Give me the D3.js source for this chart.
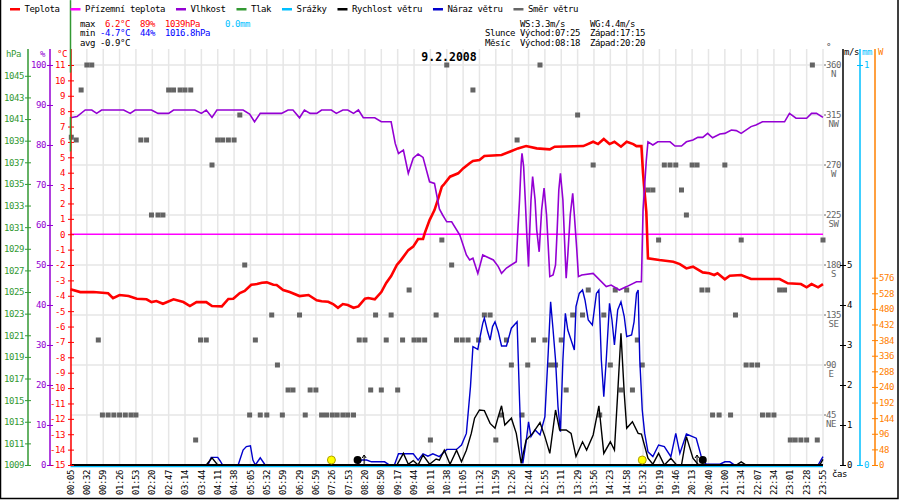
<!DOCTYPE html>
<html>
<head>
<meta charset="utf-8">
<script src="https://cdn.jsdelivr.net/npm/d3@7"></script>
<style>
  body { margin: 0; background: #fff; }
  text { font-family: "DejaVu Sans Mono", monospace; font-size: 9px; letter-spacing: -0.42px; white-space: pre; }
</style>
</head>
<body>
<div id="chart"></div>
<script>
// x positions are sample numbers: 20 samples between two time labels
var timeLabels = ["00:05","00:32","00:59","01:26","01:53","02:20","02:47","03:14","03:44","04:11",
  "04:38","05:05","05:32","05:59","06:29","06:59","07:26","07:53","08:20","08:50","09:17","09:44",
  "10:11","10:38","11:05","11:32","11:59","12:26","12:44","12:55","13:11","13:29","13:56","14:23",
  "14:58","15:32","19:19","19:46","20:13","20:40","21:00","21:34","22:07","22:34","23:01","23:28","23:55"];
var labelStep = 20;

// Teplota (°C)
var temperature = [[0,-3.58],[12,-3.76],[28,-3.76],[46,-3.84],[52,-4.15],[60,-3.95],[71,-4.02],[81,-4.19],
  [93,-4.23],[99,-4.41],[105,-4.34],[113,-4.52],[126,-4.23],[138,-4.41],[146,-4.67],[154,-4.41],[166,-4.41],
  [173,-4.67],[185,-4.69],[193,-4.21],[199,-4.19],[207,-3.82],[213,-3.69],[221,-3.28],[228,-3.24],[234,-3.15],
  [240,-3.13],[248,-3.28],[252,-3.30],[260,-3.63],[268,-3.76],[280,-4.02],[291,-3.95],[301,-4.30],[307,-4.36],
  [315,-4.39],[321,-4.54],[327,-4.78],[333,-4.54],[339,-4.60],[346,-4.78],[352,-4.69],[360,-4.19],[364,-4.15],
  [372,-4.23],[380,-3.76],[386,-3.17],[392,-2.72],[399,-2.00],[404,-1.68],[413,-1.03],[419,-0.81],[425,-0.31],
  [431,-0.31],[433,0.06],[439,0.92],[445,1.57],[449,2.22],[454,3.09],[456,3.20],[464,3.74],[474,3.96],
  [480,4.28],[488,4.61],[492,4.76],[500,4.82],[506,5.08],[527,5.15],[537,5.36],[547,5.58],[557,5.73],
  [570,5.58],[586,5.52],[592,5.69],[627,5.73],[639,6.01],[645,5.86],[652,6.19],[659,5.86],[665,6.01],
  [673,5.69],[680,6.01],[688,5.86],[692,5.73],[698,5.73],[700,3.96],[702,2.68],[704,1.46],[706,-1.57],
  [720,-1.68],[737,-1.79],[745,-1.94],[753,-2.22],[761,-2.11],[773,-2.48],[781,-2.54],[787,-2.65],
  [791,-2.54],[800,-2.93],[806,-2.70],[820,-2.65],[832,-2.91],[867,-2.91],[877,-3.19],[893,-3.24],
  [900,-3.45],[906,-3.24],[914,-3.45],[920,-3.24]];

// Přízemní teplota (°C)
var groundTemp = [[0,0],[920,0]];

// Vlhkost (%)
var humidity = [[0,86.8],[8,87.1],[18,88.75],[26,88.75],[32,87.9],[38,88.75],[65,88.75],[73,87.9],[79,88.75],
  [99,88.75],[107,87.9],[120,87.9],[126,88.75],[152,88.75],[160,87.9],[166,88.75],[173,86.9],[179,88.75],
  [211,88.75],[219,87.75],[225,85.8],[232,87.9],[258,87.9],[266,88.75],[272,88.75],[280,86.8],[286,88.75],
  [293,87.9],[301,87.9],[307,88.75],[319,88.75],[325,87.9],[333,88.75],[339,88.75],[346,87.9],[352,88.75],
  [358,86.8],[372,86.8],[380,85.8],[392,85.8],[397,80.4],[401,77.9],[407,78.75],[413,72.9],[419,76.7],
  [425,77.75],[431,76.9],[439,70.8],[445,70.4],[451,64],[455,62.5],[460,60.8],[466,60.8],[476,57.5],
  [484,52.5],[488,51.25],[492,51.7],[498,47.9],[504,52.5],[517,51.25],[523,49.6],[527,47.9],[533,49.25],
  [545,50.8],[547,58.75],[549,66.25],[551,75.5],[552,77.9],[554,74.6],[556,66.25],[558,57.1],[560,49.6],
  [561,56.25],[563,66.25],[565,72.1],[568,66.25],[570,58.75],[573,53.3],[576,63.75],[579,69.25],[582,62.5],
  [584,55],[586,47.1],[590,47.5],[593,50],[595,58.75],[597,68.75],[599,72.9],[602,66.25],[604,56.25],
  [606,46.7],[608,52.5],[611,62.5],[614,67.9],[616,62.5],[619,53.75],[621,47.1],[625,47.5],[639,47.9],
  [655,44.6],[661,45],[671,43.75],[680,44.6],[692,45.8],[698,45.8],[700,63.75],[704,76.25],[706,80.8],
  [712,80],[718,80.8],[733,80.8],[739,79.75],[747,79.75],[753,80.8],[761,81.25],[767,81.9],[773,81.9],
  [779,82.9],[785,81.8],[794,82.75],[800,82.9],[808,83.75],[814,83.6],[820,82.9],[832,84.6],[838,85],
  [846,85.8],[873,85.8],[879,87.9],[887,86.7],[900,86.7],[906,87.9],[912,87.9],[920,86.9]];

// Tlak (hPa) - only a stray trace at the left edge
var pressureTrace = [[[0,1052.0],[0,1045.3]], [[0,1041.2],[0,1038.0]]];

// Srážky (mm)
var rain = [[0,0],[920,0]];

// Rychlost větru (m/s)
var windSpeed = [[0,0],[166,0],[173,0.18],[180,0],[399,0],[407,0.29],[413,0.02],[419,0.11],[425,0],[431,0.25],
  [439,0.02],[447,0.15],[451,0.12],[457,0.37],[464,0.02],[472,0.37],[478,0.08],[484,0.37],[490,0.79],
  [494,1.17],[500,1.375],[506,1.36],[513,1.04],[519,0.92],[523,1.21],[527,1.48],[531,1.0],[539,1.17],
  [545,0.79],[551,0.04],[557,0.625],[565,0.79],[574,1.06],[580,0.71],[586,0.29],[593,1.375],[598,0.875],
  [606,0.875],[612,0.79],[618,0.21],[626,0.58],[631,0.375],[639,0.75],[646,1.48],[652,0.29],[660,0.58],
  [665,0.375],[669,1.79],[673,3.29],[677,1.79],[680,0.92],[687,1.08],[694,0.79],[698,0.775],[706,0.17],
  [712,0.02],[719,0.29],[726,0],[734,0.17],[741,0],[747,0],[753,0.71],[761,0.17],[767,0.02],[771,0],
  [814,0],[820,0.08],[826,0],[916,0],[920,0.14]];

// Náraz větru (m/s)
var windGust = [[0,0],[168,0],[172,0.19],[180,0.19],[183,0.1],[186,0],[205,0],[211,0.375],[215,0.46],
  [220,0.48],[223,0.125],[226,0],[232,0.18],[238,0],[350,0],[356,0.125],[362,0.125],[368,0.08],[384,0.08],
  [390,0],[396,0],[401,0.28],[419,0.28],[425,0.12],[431,0.28],[437,0.22],[443,0.28],[451,0.21],[460,0.39],
  [472,0.39],[478,0.5],[484,0.79],[489,1.96],[492,2.96],[498,2.89],[500,3.125],[504,3.54],[506,3.67],
  [510,3.33],[513,3.125],[516,3.46],[519,3.58],[523,3.33],[527,2.975],[533,2.975],[539,3.42],[546,3.58],
  [549,1.625],[551,0.46],[553,0.04],[557,0.58],[560,1.08],[563,0.71],[568,0.875],[574,0.75],[580,1.21],
  [584,2.79],[587,4.08],[590,3.375],[593,2.625],[596,1.46],[599,0.83],[602,2.625],[605,3.79],[608,3.375],
  [612,3.125],[616,2.875],[618,3.96],[622,4.29],[626,4.375],[629,4.125],[633,3.625],[638,3.5],[643,4.29],
  [646,4.375],[649,2.625],[652,1.71],[655,2.625],[659,4.04],[662,3.625],[665,3.0],[669,3.875],[673,4.08],
  [677,3.71],[680,3.21],[686,3.25],[689,3.58],[692,4.29],[694,4.375],[696,2.625],[699,1.375],[702,0.79],
  [706,0.33],[712,0.21],[719,0.5],[726,0.46],[734,0.21],[740,0.79],[745,0.29],[753,0.775],[765,0.67],
  [771,0.225],[777,0.02],[794,0.02],[800,0.08],[806,0.08],[812,0],[914,0],[920,0.21]];

// Směr větru (°)
var windDir = [[1,295],[7,292.5],[13,337.5],[20,360],[26,360],[34,112.5],[39,45],[46,45],[53,45],[60,45],
  [67,45],[74,45],[80,45],[86,292.5],[93,292.5],[99,225],[107,225],[113,225],[120,337.5],[126,337.5],
  [134,337.5],[140,337.5],[147,337.5],[153,22.5],[159,112.5],[166,112.5],[173,270],[180,292.5],[186,292.5],
  [193,292.5],[200,292.5],[207,315],[213,180],[219,45],[226,112.5],[232,45],[240,45],[246,135],[253,90],
  [259,45],[266,67.5],[272,67.5],[280,135],[287,45],[293,67.5],[300,67.5],[307,45],[313,45],[320,45],
  [326,45],[333,45],[339,45],[346,45],[353,112.5],[360,112.5],[367,67.5],[373,135],[380,67.5],[386,112.5],
  [392,135],[400,67.5],[406,112.5],[414,157.5],[420,112.5],[426,112.5],[433,112.5],[440,22.5],[447,135],
  [454,202.5],[460,360],[466,180],[472,112.5],[479,112.5],[486,112.5],[492,337.5],[499,112.5],[506,135],
  [513,135],[520,22.5],[527,45],[533,112.5],[539,90],[546,292.5],[552,45],[559,90],[566,112.5],[574,360],
  [580,112.5],[587,90],[593,90],[600,112.5],[606,67.5],[614,135],[620,315],[626,135],[633,157.5],[639,270],
  [647,45],[652,135],[660,90],[666,157.5],[673,67.5],[680,157.5],[687,67.5],[693,112.5],[699,90],
  [706,247.5],[712,247.5],[719,202.5],[726,270],[733,270],[740,270],[747,247.5],[753,225],[760,270],
  [766,270],[772,157.5],[779,157.5],[785,45],[793,45],[800,270],[807,45],[813,135],[820,202.5],[826,90],
  [833,90],[840,90],[846,45],[853,45],[860,45],[867,157.5],[873,157.5],[880,22.5],[886,22.5],[893,22.5],
  [900,22.5],[907,360],[913,22.5],[920,202.5]];

// sun / moon rise and set, small markers
var sunMarks = [319, 699];
var moonMarks = [351, 773];
var arrowMarks = [359, 766];

// tick values
var hpaTicks = d3.range(1009, 1046, 2);
var humTicks = d3.range(0, 101, 10);
var tempTicks = d3.range(-15, 12, 1);
var dirTicks = [45, 90, 135, 180, 225, 270, 315, 360];
var compass = ["NE", "E", "SE", "S", "SW", "W", "NW", "N"];
var msTicks = [0, 1, 2, 3, 4, 5];
var mmTicks = [0, 1];
var wTicks = d3.range(0, 577, 48);

var legendItems = ["Teplota", "Přízemní teplota", "Vlhkost", "Tlak", "Srážky", "Rychlost větru", "Náraz větru", "Směr větru"];
var legendColors = ["#ff0000", "#ff00ff", "#9400d3", "#339933", "#00bfff", "#000000", "#0000cc", "#666666"];

var svgWidth = 900, svgHeight = 500;
var plotLeft = 70.5, plotRight = 823, plotTop = 65, plotBottom = 465, axisTop = 49;

var svg = d3.select("#chart").append("svg")
  .attr("width", svgWidth)
  .attr("height", svgHeight);

var x = d3.scaleLinear().domain([0, 920]).range([plotLeft, plotRight]);
var yT = d3.scaleLinear().domain([-15, 11]).range([plotBottom, plotTop]);
var yH = d3.scaleLinear().domain([0, 100]).range([plotBottom, plotTop]);
var yP = d3.scaleLinear().domain([1009, 1046]).range([plotBottom, plotTop]);
var yD = d3.scaleLinear().domain([0, 360]).range([plotBottom, plotTop]);
var yMs = d3.scaleLinear().domain([0, 10]).range([plotBottom, plotTop]);
var yMm = d3.scaleLinear().domain([0, 1]).range([plotBottom, plotTop]);
var yW = d3.scaleLinear().domain([0, 1230]).range([plotBottom, plotTop]);

// grid
svg.append("g").selectAll("line").data(timeLabels).join("line")
  .attr("x1", (d, i) => x(i * labelStep)).attr("x2", (d, i) => x(i * labelStep))
  .attr("y1", axisTop).attr("y2", plotBottom)
  .attr("stroke", "#e6e6e6").attr("stroke-width", 1.5);
svg.append("g").selectAll("line").data(d3.range(0, 361, 45)).join("line")
  .attr("x1", plotLeft).attr("x2", plotRight)
  .attr("y1", d => yD(d)).attr("y2", d => yD(d))
  .attr("stroke", "#e6e6e6").attr("stroke-width", 1.5);

// wind direction squares
svg.append("g").selectAll("rect").data(windDir).join("rect")
  .attr("x", d => x(d[0]) - 2.5).attr("y", d => yD(d[1]) - 2.5)
  .attr("width", 5).attr("height", 5)
  .attr("fill", "#646464");

function lineOf(ys) {
  return d3.line().x(d => x(d[0])).y(d => ys(d[1]));
}

svg.append("path").datum(groundTemp).attr("d", lineOf(yT))
  .attr("fill", "none").attr("stroke", "#ff00ff").attr("stroke-width", 1.5);

svg.append("path").datum(temperature).attr("d", lineOf(yT))
  .attr("fill", "none").attr("stroke", "#ff0000").attr("stroke-width", 2.6);

svg.append("path").datum(humidity).attr("d", lineOf(yH))
  .attr("fill", "none").attr("stroke", "#9400d3").attr("stroke-width", 1.6);

svg.append("path").datum(rain).attr("d", lineOf(yMm))
  .attr("transform", "translate(0,1.5)")
  .attr("fill", "none").attr("stroke", "#00bfff").attr("stroke-width", 1.5);

svg.append("path").datum(windGust).attr("d", lineOf(yMs))
  .attr("fill", "none").attr("stroke", "#0000cc").attr("stroke-width", 1.4);

svg.append("path").datum(windSpeed).attr("d", lineOf(yMs))
  .attr("fill", "none").attr("stroke", "#000").attr("stroke-width", 1.4);

svg.append("line").attr("x1", plotLeft).attr("x2", plotRight).attr("y1", plotBottom).attr("y2", plotBottom)
  .attr("stroke", "#000").attr("stroke-width", 2);

// sun and moon
svg.append("g").selectAll("circle").data(sunMarks).join("circle")
  .attr("cx", d => x(d)).attr("cy", plotBottom - 5).attr("r", 4)
  .attr("fill", "#ffff00").attr("stroke", "#b0a000").attr("stroke-width", 1);
svg.append("g").selectAll("circle").data(moonMarks).join("circle")
  .attr("cx", d => x(d)).attr("cy", plotBottom - 5).attr("r", 4)
  .attr("fill", "#000");
svg.append("g").selectAll("path").data(arrowMarks).join("path")
  .attr("d", d => `M${x(d)},${plotBottom}V${plotBottom - 10}M${x(d) - 2},${plotBottom - 7}L${x(d)},${plotBottom - 10}L${x(d) + 2},${plotBottom - 7}`)
  .attr("fill", "none").attr("stroke", "#000").attr("stroke-width", 1);

// left axes
function leftAxis(xPos, scale, ticks, color, pad) {
  svg.append("line").attr("x1", xPos).attr("x2", xPos).attr("y1", axisTop).attr("y2", plotBottom)
    .attr("stroke", color).attr("stroke-width", 1.5);
  var g = svg.append("g").attr("transform", `translate(${xPos},0)`)
    .call(d3.axisLeft(scale).tickValues(ticks).tickFormat(d => String(d)).tickSize(3).tickPadding(pad));
  g.select(".domain").remove();
  g.selectAll(".tick line").attr("x1", 3).attr("stroke", color);
  g.selectAll(".tick text").attr("fill", color);
  g.attr("font-family", null).attr("font-size", null);
}
leftAxis(28, yP, hpaTicks, "#339933", 1);
leftAxis(50, yH, humTicks, "#9400d3", 1);
leftAxis(71, yT, tempTicks, "#ff0000", 3);

// Tlak trace at the left edge
pressureTrace.forEach(function(seg) {
  svg.append("path").datum(seg).attr("d", lineOf(yP))
    .attr("fill", "none").attr("stroke", "#339933").attr("stroke-width", 1.5);
});

svg.append("text").attr("x", 6).attr("y", 57).attr("fill", "#339933").text("hPa");
svg.append("text").attr("x", 40).attr("y", 57).attr("fill", "#9400d3").text("%");
svg.append("text").attr("x", 57).attr("y", 57).attr("fill", "#ff0000").text("°C");

// wind direction scale
var gDir = svg.append("g");
gDir.selectAll("g").data(dirTicks).join("g")
  .attr("transform", d => `translate(${plotRight},${yD(d)})`)
  .each(function(d, i) {
    var g = d3.select(this);
    g.append("line").attr("x1", 1).attr("x2", 3).attr("stroke", "#666");
    var t = g.append("text").attr("x", 3).attr("dy", "0.35em").attr("fill", "#666").text(d);
    var w = t.node().getComputedTextLength();
    g.append("text").attr("x", 3 + w / 2).attr("y", 9).attr("dy", "0.35em")
      .attr("text-anchor", "middle").attr("fill", "#666").text(compass[i]);
  });
svg.append("text").attr("x", 826).attr("y", 50).attr("fill", "#444").text("°");

// right axes
function rightAxis(xPos, scale, ticks, color) {
  svg.append("line").attr("x1", xPos).attr("x2", xPos).attr("y1", axisTop).attr("y2", plotBottom)
    .attr("stroke", color).attr("stroke-width", 1.5);
  var g = svg.append("g").attr("transform", `translate(${xPos},0)`)
    .call(d3.axisRight(scale).tickValues(ticks).tickFormat(d => String(d)).tickSize(3).tickPadding(1));
  g.select(".domain").remove();
  g.selectAll(".tick line").attr("x1", -3).attr("stroke", color);
  g.selectAll(".tick text").attr("fill", color);
  g.attr("font-family", null).attr("font-size", null);
}
rightAxis(843, yMs, msTicks, "#000");
rightAxis(860, yMm, mmTicks, "#00bfff");
rightAxis(875, yW, wTicks, "#ff8000");

svg.append("text").attr("x", 844).attr("y", 55).attr("fill", "#000").text("m/s");
svg.append("text").attr("x", 862).attr("y", 55).attr("fill", "#00bfff").text("mm");
svg.append("text").attr("x", 878).attr("y", 55).attr("fill", "#ff8000").text("W");

// time labels
svg.append("g").selectAll("text").data(timeLabels).join("text")
  .attr("transform", (d, i) => `translate(${x(i * labelStep)},470) rotate(-90)`)
  .attr("text-anchor", "end").attr("dy", "0.35em").attr("fill", "#000")
  .text(d => d);
svg.append("text").attr("x", 832).attr("y", 477).attr("fill", "#000").text("čas");

// title
svg.append("text").attr("x", 449).attr("y", 61).attr("text-anchor", "middle")
  .style("font-size", "11.5px").style("font-weight", "bold").style("letter-spacing", "0px")
  .text("9.2.2008");

// legend
var lx = 10;
legendItems.forEach(function(name, i) {
  svg.append("rect").attr("x", lx).attr("y", 8).attr("width", 10).attr("height", 2.5).attr("fill", legendColors[i]);
  var t = svg.append("text").attr("x", lx + 14.5).attr("y", 12).attr("fill", "#000").text(name);
  lx = lx + 14.5 + t.node().getComputedTextLength() + 11;
});

// stats
function statRow(xPos, yPos, parts) {
  var t = svg.append("text").attr("x", xPos).attr("y", yPos);
  parts.forEach(function(p) { t.append("tspan").attr("fill", p[1]).text(p[0]); });
}
statRow(80, 26.5, [["max  ", "#000"], ["6.2°C", "#ff0000"], ["  ", "#000"], ["89%", "#ff0000"], ["  ", "#000"],
  ["1039hPa", "#ff0000"], ["     ", "#000"], ["0.0mm", "#00bfff"]]);
statRow(80, 36.3, [["min ", "#000"], ["-4.7°C", "#0000ff"], ["  ", "#000"], ["44%", "#0000ff"], ["  ", "#000"],
  ["1016.8hPa", "#0000ff"]]);
statRow(80, 46, [["avg -0.9°C", "#000"]]);
statRow(485, 26.5, [["       WS:3.3m/s     WG:4.4m/s", "#000"]]);
statRow(485, 36.3, [["Slunce Východ:07:25  Západ:17:15", "#000"]]);
statRow(485, 46, [["Měsíc  Východ:08:18  Západ:20:20", "#000"]]);

// frame
svg.append("rect").attr("x", 0.5).attr("y", -2).attr("width", 897.5).attr("height", 500.5)
  .attr("fill", "none").attr("stroke", "#000").attr("stroke-width", 1.5);
</script>
</body>
</html>
